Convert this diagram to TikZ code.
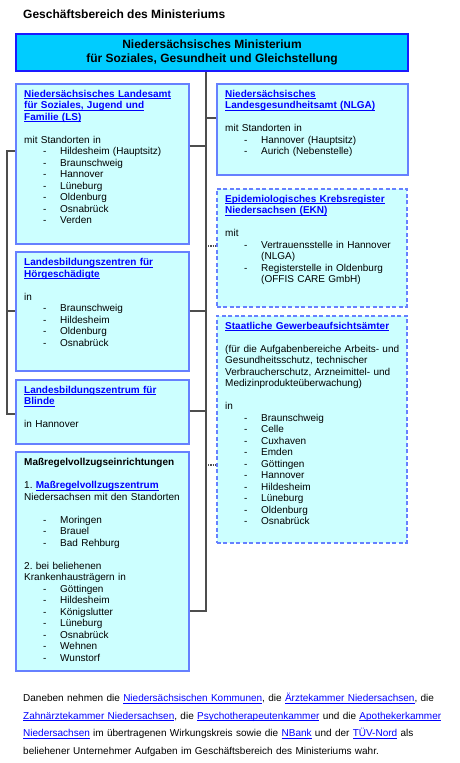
\documentclass[tikz,border=0pt]{standalone}
\usepackage{fontspec}
\setmainfont{Liberation Sans}
\definecolor{lnkblue}{HTML}{0000FF}
\definecolor{boxline}{HTML}{6680FF}
\definecolor{boxfill}{HTML}{CCFFFF}
\definecolor{minfill}{HTML}{00CCFF}
\definecolor{minline}{HTML}{1A1AFF}
\definecolor{linegray}{HTML}{4D4D4D}
\newcommand{\lnk}[1]{\leavevmode{\color{lnkblue}\setbox0\hbox{#1}\rlap{\rule[-1.7pt]{\wd0}{0.6pt}}\box0}}
\newcommand{\itm}[1]{\hspace*{19pt}\makebox[17pt][l]{-}#1}
\newcommand{\itmc}[1]{\hspace*{36pt}#1}

\begin{document}
\begin{tikzpicture}[x=1pt,y=-1pt,
  bnode/.style={draw=boxline,line width=1.5pt,fill=boxfill,anchor=north west,minimum width=173pt,inner sep=0pt},
  dnode/.style={bnode,minimum width=190pt,dash pattern=on 4pt off 2.5pt},
  mnode/.style={draw=minline,line width=2pt,fill=minfill,anchor=north west,minimum width=392pt,minimum height=37pt,align=center,font=\fontsize{12}{14}\selectfont\bfseries},
  tnode/.style={anchor=base west,inner sep=0pt,text width=190pt,align=left,font=\fontsize{10}{11.5}\selectfont},
  conn/.style={draw=linegray,line width=1.2pt},
  dconn/.style={conn,densely dotted}]
    \path[use as bounding box] (0,0) rectangle (459,763);

    \node[anchor=base west,inner sep=0pt,font=\fontsize{12}{14}\selectfont\bfseries] (title) at (23,18.5) {Geschäftsbereich des Ministeriums};

    % trunk and branches
    \coordinate (t0) at (206,118);
    \coordinate (t1) at (206,146);
    \coordinate (t2) at (206,246);
    \coordinate (t3) at (206,311);
    \coordinate (t4) at (206,411);
    \coordinate (t5) at (206,465);
    \coordinate (t6) at (206,611);
    \coordinate (b0) at (7,151);
    \coordinate (b1) at (7,311);
    \coordinate (b2) at (7,414);

    \node[mnode] (min) at (15,33) {Niedersächsisches Ministerium\\für Soziales, Gesundheit und Gleichstellung};

    \node[bnode,minimum height=160pt] (ls) at (15,83) {};
    \node[bnode,minimum width=191pt,minimum height=91pt] (nlga) at (216,83) {};
    \node[dnode,minimum height=118pt] (ekn) at (216,188) {};
    \node[dnode,minimum height=227pt] (gaa) at (216,315) {};
    \node[bnode,minimum height=119pt] (lbzh) at (15,251) {};
    \node[bnode,minimum height=64pt] (lbzb) at (15,379) {};
    \node[bnode,minimum height=219pt] (mrv) at (15,451) {};

    \draw[conn] (min.south -| t0) -- (t6) -- (mrv.east |- t6);
    \draw[conn] (t0) -- (nlga.west |- t0);
    \draw[conn] (ls.east |- t1) -- (t1);
    \draw[dconn] (t2) -- (ekn.west |- t2);
    \draw[conn] (lbzh.east |- t3) -- (t3);
    \draw[conn] (lbzb.east |- t4) -- (t4);
    \draw[dconn] (t5) -- (gaa.west |- t5);
    \draw[conn] (ls.west |- b0) -- (b0) -- (b2) -- (lbzb.west |- b2);
    \draw[conn] (b1) -- (lbzh.west |- b1);

    \node[tnode] (lsT) at ([shift={(9,14)}]ls.north west) {\textbf{\lnk{Niedersächsisches Landesamt}}\\\textbf{\lnk{für Soziales, Jugend und}}\\\textbf{\lnk{Familie (LS)}}\\[11.5pt]%
      mit Standorten in\\\itm{Hildesheim (Hauptsitz)}\\\itm{Braunschweig}\\\itm{Hannover}\\\itm{Lüneburg}\\\itm{Oldenburg}\\\itm{Osnabrück}\\\itm{Verden}};
    \node[tnode] (nlgaT) at ([shift={(9,14)}]nlga.north west) {\textbf{\lnk{Niedersächsisches}}\\\textbf{\lnk{Landesgesundheitsamt (NLGA)}}\\[11.5pt]%
      mit Standorten in\\\itm{Hannover (Hauptsitz)}\\\itm{Aurich (Nebenstelle)}};
    \node[tnode] (eknT) at ([shift={(9,14)}]ekn.north west) {\textbf{\lnk{Epidemiologisches Krebsregister}}\\\textbf{\lnk{Niedersachsen (EKN)}}\\[11.5pt]%
      mit\\\itm{Vertrauensstelle in Hannover}\\\itmc{(NLGA)}\\\itm{Registerstelle in Oldenburg}\\\itmc{(OFFIS CARE GmbH)}};
    \node[tnode] (gaaT) at ([shift={(9,14)}]gaa.north west) {\textbf{\lnk{Staatliche Gewerbeaufsichtsämter}}\\[11.5pt]%
      (für die Aufgabenbereiche Arbeits- und\\Gesundheitsschutz, technischer\\Verbraucherschutz, Arzneimittel- und\\Medizinprodukteüberwachung)\\[11.5pt]%
      in\\\itm{Braunschweig}\\\itm{Celle}\\\itm{Cuxhaven}\\\itm{Emden}\\\itm{Göttingen}\\\itm{Hannover}\\\itm{Hildesheim}\\\itm{Lüneburg}\\\itm{Oldenburg}\\\itm{Osnabrück}};
    \node[tnode] (lbzhT) at ([shift={(9,14.5)}]lbzh.north west) {\textbf{\lnk{Landesbildungszentren für}}\\\textbf{\lnk{Hörgeschädigte}}\\[11.5pt]%
      in\\\itm{Braunschweig}\\\itm{Hildesheim}\\\itm{Oldenburg}\\\itm{Osnabrück}};
    \node[tnode] (lbzbT) at ([shift={(9,14)}]lbzb.north west) {\textbf{\lnk{Landesbildungszentrum für}}\\\textbf{\lnk{Blinde}}\\[11.5pt]%
      in Hannover};
    \node[tnode] (mrvT) at ([shift={(9,14.5)}]mrv.north west) {\textbf{Maßregelvollzugseinrichtungen}\\[11.5pt]%
      1.\ \textbf{\lnk{Maßregelvollzugszentrum}}\\Niedersachsen mit den Standorten\\[11.5pt]%
      \itm{Moringen}\\\itm{Brauel}\\\itm{Bad Rehburg}\\[11.5pt]%
      2.\ bei beliehenen\\Krankenhausträgern in\\\itm{Göttingen}\\\itm{Hildesheim}\\\itm{Königslutter}\\\itm{Lüneburg}\\\itm{Osnabrück}\\\itm{Wehnen}\\\itm{Wunstorf}};

    \node[tnode,text width=430pt,font=\fontsize{10}{17.6}\selectfont] (note) at (23,701.6) {Daneben nehmen die \lnk{Niedersächsischen Kommunen}, die \lnk{Ärztekammer Niedersachsen}, die\\%
      \lnk{Zahnärztekammer Niedersachsen}, die \lnk{Psychotherapeutenkammer} und die \lnk{Apothekerkammer}\\%
      \lnk{Niedersachsen} im übertragenen Wirkungskreis sowie die \lnk{NBank} und der \lnk{TÜV-Nord} als\\%
      beliehener Unternehmer Aufgaben im Geschäftsbereich des Ministeriums wahr.};
\end{tikzpicture}
\end{document}
